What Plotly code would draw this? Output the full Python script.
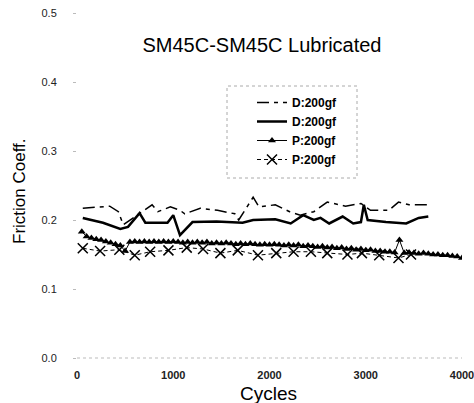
import plotly.graph_objects as go

# ---- data ----
d1_cycles = [60, 340, 430, 480, 780, 840, 970, 1070, 1120, 1280, 1460, 1640, 1680, 1830, 1890,
             2060, 2210, 2320, 2460, 2600, 2790, 2950, 3050, 3240, 3340, 3450, 3650]
d1_mu = [0.217, 0.220, 0.212, 0.193, 0.222, 0.212, 0.219, 0.214, 0.209, 0.217, 0.214, 0.209, 0.200,
         0.233, 0.219, 0.222, 0.212, 0.207, 0.212, 0.226, 0.220, 0.224, 0.214, 0.214, 0.226, 0.222, 0.222]

d2_cycles = [60, 270, 450, 530, 650, 710, 940, 1000, 1070, 1200, 1450, 1670, 1720, 1830, 2060, 2220,
             2350, 2460, 2530, 2620, 2760, 2870, 2950, 2980, 3020, 3210, 3420, 3550, 3650]
d2_mu = [0.203, 0.196, 0.187, 0.190, 0.210, 0.196, 0.196, 0.207, 0.178, 0.197, 0.198, 0.197, 0.196,
         0.200, 0.201, 0.195, 0.207, 0.200, 0.203, 0.195, 0.205, 0.195, 0.197, 0.222, 0.200, 0.197,
         0.195, 0.203, 0.205]

p1_cycles = [50, 100, 150, 200, 250, 300, 350, 400, 450, 500, 550, 600, 650, 700, 750, 800, 850, 900,
             950, 1000, 1050, 1100, 1150, 1200, 1250, 1300, 1350, 1400, 1450, 1500, 1550, 1600, 1650,
             1700, 1750, 1800, 1850, 1900, 1950, 2000, 2050, 2100, 2150, 2200, 2250, 2300, 2350, 2400,
             2450, 2500, 2550, 2600, 2650, 2700, 2750, 2800, 2850, 2900, 2950, 3000, 3050, 3100, 3150,
             3200, 3250, 3300, 3350, 3400, 3450, 3500, 3550, 3600, 3650, 3700, 3750, 3800, 3850, 3900,
             3950, 4000]
p1_mu = [0.183, 0.176, 0.174, 0.172, 0.171, 0.169, 0.167, 0.165, 0.163, 0.155, 0.168, 0.169, 0.168,
         0.169, 0.168, 0.169, 0.168, 0.169, 0.168, 0.169, 0.168, 0.167, 0.168, 0.167, 0.168, 0.167,
         0.168, 0.166, 0.167, 0.166, 0.167, 0.166, 0.165, 0.166, 0.165, 0.166, 0.165, 0.164, 0.165,
         0.164, 0.165, 0.164, 0.163, 0.164, 0.163, 0.164, 0.162, 0.163, 0.162, 0.161, 0.162, 0.160,
         0.161, 0.159, 0.160, 0.158, 0.159, 0.157, 0.158, 0.156, 0.157, 0.155, 0.155, 0.154, 0.154,
         0.153, 0.171, 0.152, 0.153, 0.152, 0.151, 0.152, 0.151, 0.150, 0.150, 0.149, 0.149, 0.148,
         0.147, 0.145]

p2_cycles = [60, 240, 440, 600, 760, 950, 1140, 1310, 1490, 1670, 1880, 2070, 2250, 2430, 2600, 2810,
             2960, 3140, 3340, 3470]
p2_mu = [0.159, 0.155, 0.157, 0.149, 0.154, 0.156, 0.160, 0.158, 0.152, 0.156, 0.149, 0.152, 0.154,
         0.154, 0.152, 0.150, 0.152, 0.149, 0.145, 0.150]

series_names = ["D:200gf", "D:200gf", "P:200gf", "P:200gf"]
y_ticks = [0.0, 0.1, 0.2, 0.3, 0.4, 0.5]
y_tick_text = ["0.0", "0.1", "0.2", "0.3", "0.4", "0.5"]
x_ticks = [0, 1000, 2000, 3000, 4000]

FONT = "Liberation Sans, Arial, sans-serif"

fig = go.Figure()
fig.add_trace(go.Scatter(x=d1_cycles, y=d1_mu, mode="lines", name=series_names[0],
                         line=dict(color="black", width=1.5, dash="12px,5px,4px,5px")))
fig.add_trace(go.Scatter(x=d2_cycles, y=d2_mu, mode="lines", name=series_names[1],
                         line=dict(color="black", width=2.5)))
fig.add_trace(go.Scatter(x=p1_cycles, y=p1_mu, mode="lines+markers", name=series_names[2],
                         line=dict(color="black", width=1),
                         marker=dict(symbol="triangle-up", size=7, color="black")))
fig.add_trace(go.Scatter(x=p2_cycles, y=p2_mu, mode="lines+markers", name=series_names[3],
                         line=dict(color="black", width=1, dash="4px,3px"),
                         marker=dict(symbol="x-thin-open", size=10,
                                     line=dict(color="black", width=1.5))))

W, H = 474, 403
L, R, T, B = 77, 12, 13, 45
pw, ph = W - L - R, H - T - B

def px_x(px):
    return (px - L) / pw

def px_y(py):
    return (H - B - py) / ph

fig.update_layout(
    width=W, height=H,
    margin=dict(l=L, r=R, t=T, b=B, autoexpand=False),
    paper_bgcolor="white", plot_bgcolor="white",
    font=dict(family=FONT, color="black"),
    title=dict(text="SM45C-SM45C Lubricated", x=262 / W, xanchor="center",
               y=1 - 45 / H, yanchor="middle", font=dict(size=20, family=FONT, color="black")),
    showlegend=True,
    legend=dict(x=px_x(252), y=px_y(88), xanchor="left", yanchor="top",
                bgcolor="rgba(0,0,0,0)", borderwidth=0,
                font=dict(size=12, family="Liberation Sans, Arial", color="black", weight="bold"),
                tracegroupgap=0),
    xaxis=dict(range=[0, 4000], tickvals=x_ticks, showgrid=False, zeroline=False, automargin=False,
               showline=False, ticks="", ticklabelstandoff=9, ticklabeloverflow="allow",
               tickfont=dict(size=11, family=FONT, color="#222", weight="bold")),
    yaxis=dict(range=[0, 0.5], tickvals=y_ticks, ticktext=y_tick_text, showgrid=False,
               zeroline=False, showline=False, ticks="outside", ticklen=3, tickcolor="#bbb",
               automargin=False,
               ticklabelstandoff=14, tickfont=dict(size=11, family=FONT, color="#222")),
    shapes=[
        dict(type="rect", xref="paper", yref="paper", x0=px_x(227), x1=px_x(357),
             y0=px_y(178), y1=px_y(86), line=dict(color="#aaa", width=1, dash="dot")),
        dict(type="line", xref="paper", yref="paper", x0=0, x1=1, y0=0, y1=0,
             line=dict(color="#bbb", width=1, dash="dot")),
    ],
    annotations=[
        dict(text="Cycles", xref="paper", yref="paper", x=px_x(268), y=px_y(393),
             xanchor="center", yanchor="middle", showarrow=False,
             font=dict(size=19, family=FONT, color="black")),
        dict(text="Friction Coeff.", xref="paper", yref="paper", x=px_x(19), y=px_y(191),
             xanchor="center", yanchor="middle", showarrow=False, textangle=-90,
             font=dict(size=17, family=FONT, color="black")),
    ],
)

fig.write_html("out.html", config={"displayModeBar": False},
               post_script="document.body.style.margin='0';document.body.style.overflow='hidden';")
